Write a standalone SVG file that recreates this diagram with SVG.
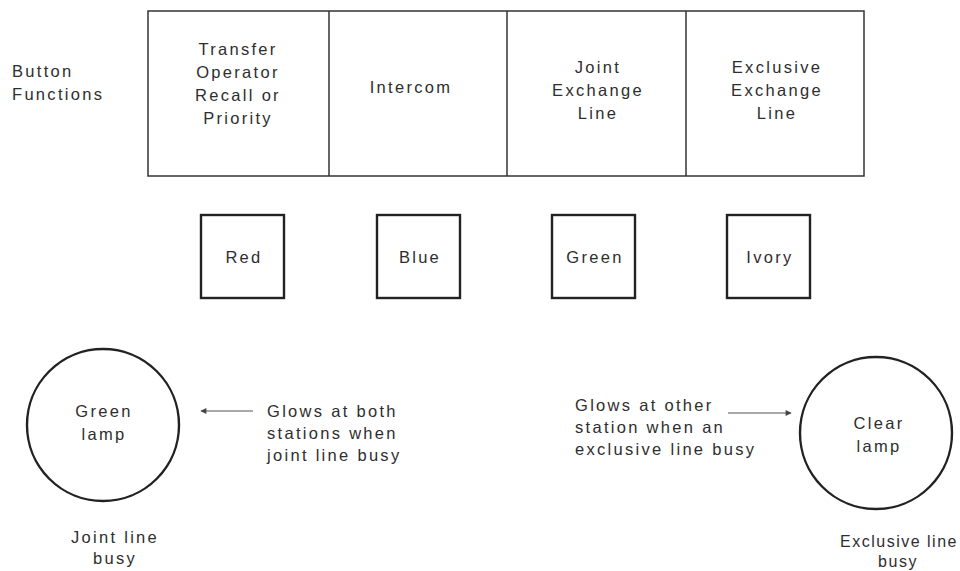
<svg xmlns="http://www.w3.org/2000/svg" width="960" height="571" viewBox="0 0 960 571">
  <defs>
    <style>
      text { font-family: "Liberation Sans", Arial, sans-serif; font-size: 16.5px; letter-spacing: 2.3px; fill: #2e2e2e; }
      .c { text-anchor: middle; }
      .tight { font-size: 16px; letter-spacing: 1.5px; }
      .frame { fill: none; stroke: #333; stroke-width: 1.5; }
      .key { fill: #fff; stroke: #222; stroke-width: 2.4; }
      .lamp { fill: #fff; stroke: #222; stroke-width: 2.4; }
      .lead { fill: none; stroke: #555; stroke-width: 1.2; }
    </style>
    <marker id="head" viewBox="0 0 10 10" refX="9" refY="5" markerWidth="7" markerHeight="6" markerUnits="userSpaceOnUse" orient="auto">
      <path d="M0,0 L10,5 L0,10 Z" fill="#444"/>
    </marker>
  </defs>

  <rect width="960" height="571" fill="#fff"/>

  <!-- row label -->
  <g id="label-button-functions">
    <text x="12" y="77">Button</text>
    <text x="12" y="100">Functions</text>
  </g>

  <!-- function strip -->
  <g id="function-strip">
    <rect class="frame" x="148" y="11" width="716" height="165"/>
    <line class="frame" x1="329" y1="11" x2="329" y2="176"/>
    <line class="frame" x1="507" y1="11" x2="507" y2="176"/>
    <line class="frame" x1="686" y1="11" x2="686" y2="176"/>
  </g>
  <g id="cell-transfer">
    <text class="c" x="238" y="55">Transfer</text>
    <text class="c" x="238" y="78">Operator</text>
    <text class="c" x="238" y="101">Recall or</text>
    <text class="c" x="238" y="124">Priority</text>
  </g>
  <g id="cell-intercom">
    <text class="c" x="411" y="93">Intercom</text>
  </g>
  <g id="cell-joint">
    <text class="c" x="598" y="73">Joint</text>
    <text class="c" x="598" y="96">Exchange</text>
    <text class="c" x="598" y="119">Line</text>
  </g>
  <g id="cell-exclusive">
    <text class="c" x="777" y="73">Exclusive</text>
    <text class="c" x="777" y="96">Exchange</text>
    <text class="c" x="777" y="119">Line</text>
  </g>

  <!-- coloured keys -->
  <g id="key-red">
    <rect class="key" x="201" y="215" width="83" height="83"/>
    <text class="c" x="244" y="263">Red</text>
  </g>
  <g id="key-blue">
    <rect class="key" x="377" y="215" width="83" height="83"/>
    <text class="c" x="420" y="263">Blue</text>
  </g>
  <g id="key-green">
    <rect class="key" x="552" y="215" width="83" height="83"/>
    <text class="c" x="595" y="263">Green</text>
  </g>
  <g id="key-ivory">
    <rect class="key" x="727" y="215" width="83" height="83"/>
    <text class="c" x="770" y="263">Ivory</text>
  </g>

  <!-- lamps -->
  <g id="lamp-green">
    <circle class="lamp" cx="103" cy="425" r="76"/>
    <text class="c" x="104" y="417">Green</text>
    <text class="c" x="104" y="440">lamp</text>
    <text class="c" x="115" y="543">Joint line</text>
    <text class="c" x="115" y="564">busy</text>
  </g>
  <g id="lamp-clear">
    <circle class="lamp" cx="876" cy="433" r="76"/>
    <text class="c" x="879" y="429">Clear</text>
    <text class="c" x="879" y="452">lamp</text>
    <text class="c tight" x="899" y="547">Exclusive line</text>
    <text class="c tight" x="898" y="567">busy</text>
  </g>

  <!-- notes -->
  <g id="note-joint">
    <text x="267" y="417">Glows at both</text>
    <text x="267" y="439">stations when</text>
    <text x="267" y="461">joint line busy</text>
  </g>
  <g id="note-exclusive">
    <text x="575" y="411">Glows at other</text>
    <text x="575" y="433">station when an</text>
    <text x="575" y="455">exclusive line busy</text>
  </g>

  <!-- leaders -->
  <g id="connectors">
    <line class="lead" x1="253" y1="411" x2="201" y2="411" marker-end="url(#head)"/>
    <line class="lead" x1="728" y1="413" x2="791" y2="413" marker-end="url(#head)"/>
  </g>
</svg>
